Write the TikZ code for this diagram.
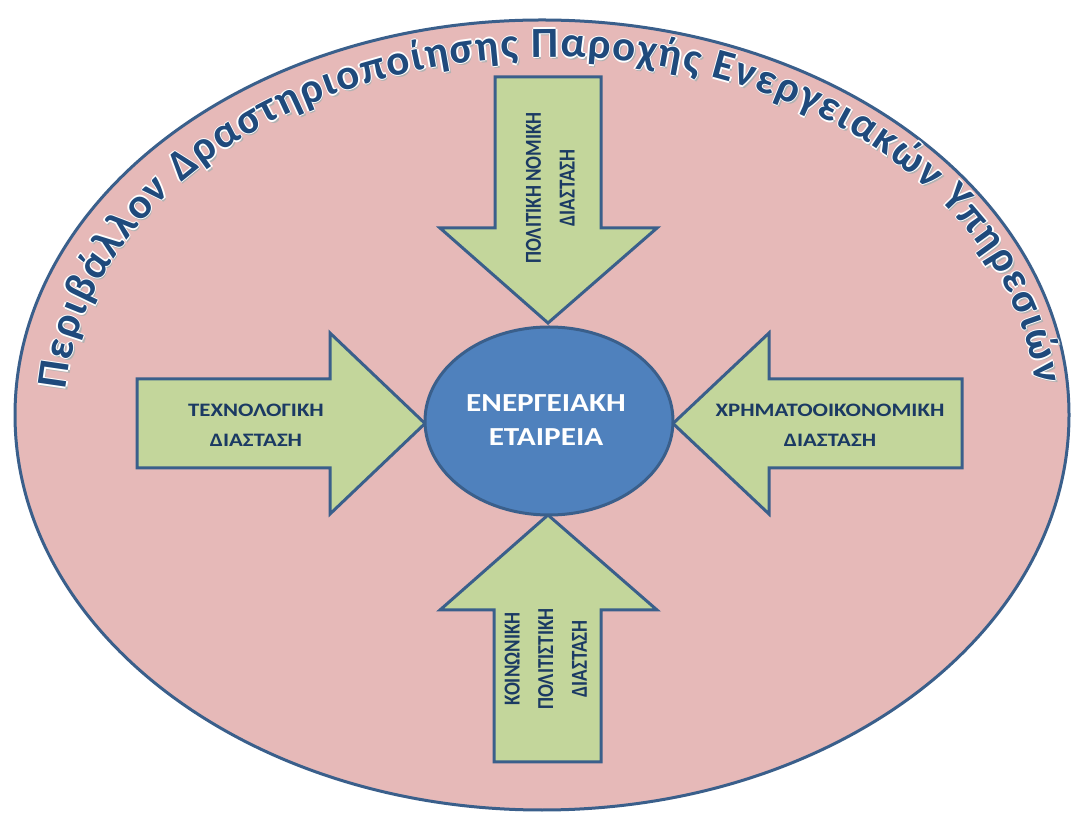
\documentclass[tikz,border=0pt]{standalone}
\usepackage{fontspec}
\usepackage{graphicx}
\usetikzlibrary{decorations.text,shapes.geometric}

\newfontfamily\carlito{Carlito}

\definecolor{rim}{HTML}{3A5F8B}
\definecolor{field}{HTML}{E6B9B8}
\definecolor{force}{HTML}{C3D69B}
\definecolor{corefill}{HTML}{4F81BD}
\definecolor{navy}{HTML}{1B3A63}
\definecolor{arcblue}{HTML}{1F4A7C}

\newcommand\arctitlefont{\carlito\bfseries\fontsize{43}{46}\selectfont}
\newcommand\forcefont{\carlito\bfseries\fontsize{19}{30}\selectfont}
\newcommand\forcefontrot{\carlito\bfseries\fontsize{19}{28}\selectfont}
\newcommand\corefont{\carlito\bfseries\fontsize{26}{34}\selectfont}
% wide lettering: horizontal labels stretched sideways, turned labels stretched in height
\newcommand\widelines[1]{\scalebox{1.2}[1]{\begin{tabular}{@{}c@{}}#1\end{tabular}}}
\newcommand\talllines[1]{\scalebox{1}[1.2]{\begin{tabular}{@{}c@{}}#1\end{tabular}}}

\tikzset{
  fieldshape/.style={ellipse, draw=rim, line width=3pt, fill=field,
    minimum width=1054pt, minimum height=790pt, inner sep=0pt},
  coreshape/.style={ellipse, draw=rim, line width=3pt, fill=corefill,
    minimum width=248pt, minimum height=188pt, inner sep=0pt},
  forcearrow/.style={draw=rim, line width=3pt, fill=force, line join=miter},
  forcelabel/.style={text=navy, font=\forcefont, inner sep=0pt},
  forcelabelrot/.style={text=navy, font=\forcefontrot, inner sep=0pt, rotate=90},
  corelabel/.style={text=white, font=\corefont, inner sep=0pt},
  arctitle/.style={decorate, decoration={text along path, text align=fit to path,
    text={|\arctitlefont\color{#1}|Περιβάλλον Δραστηριοποίησης Παροχής Ενεργειακών Υπηρεσιών}}},
}

\newcommand\titlearc{(551,404) ++(176:486pt and 358pt)
  arc[start angle=176, end angle=5, x radius=486pt, y radius=358pt]}

\begin{document}
\begin{tikzpicture}[x=1pt, y=1pt]
  \fill[white] (0,0) rectangle (1073,819);
  \useasboundingbox (0,0) rectangle (1073,819);

  % the surrounding business environment
  \node[fieldshape] (field) at (542,404) {};

  % curved title: soft shadow, white halo, then the lettering itself
  \path[arctitle={black!30}, shift={(1.8,-2.2)}] \titlearc;
  \path[arctitle=white, shift={(1.4,0)}] \titlearc;
  \path[arctitle=white, shift={(-1.4,0)}] \titlearc;
  \path[arctitle=white, shift={(0,1.4)}] \titlearc;
  \path[arctitle=white, shift={(0,-1.4)}] \titlearc;
  \path[arctitle=arcblue] \titlearc;

  % four forces pointing at the company
  \draw[forcearrow] (495,742) -- (601,742) -- (601,591) -- (657,591)
    -- (548,496) -- (440,591) -- (495,591) -- cycle;
  \draw[forcearrow] (494,57) -- (601,57) -- (601,209) -- (657,209)
    -- (548,304) -- (440,209) -- (494,209) -- cycle;
  \draw[forcearrow] (137,440) -- (330,440) -- (330,486) -- (425,395.5)
    -- (330,305) -- (330,351) -- (137,351) -- cycle;
  \draw[forcearrow] (962,440) -- (769,440) -- (769,486) -- (673,395.5)
    -- (769,305) -- (769,351) -- (962,351) -- cycle;

  % the company at the centre
  \node[coreshape] (core) at (549,398) {};
  \node[corelabel] (corename) at (546,397.5)
    {\widelines{ΕΝΕΡΓΕΙΑΚΗ\\ΕΤΑΙΡΕΙΑ}};

  % force labels
  \node[forcelabelrot] (legal) at (551,631)
    {\talllines{ΠΟΛΙΤΙΚΗ ΝΟΜΙΚΗ\\ΔΙΑΣΤΑΣΗ}};
  \node[forcelabelrot] (social) at (546.5,160)
    {\talllines{ΚΟΙΝΩΝΙΚΗ\\ΠΟΛΙΤΙΣΤΙΚΗ\\ΔΙΑΣΤΑΣΗ}};
  \node[forcelabel] (tech) at (256,393)
    {\widelines{ΤΕΧΝΟΛΟΓΙΚΗ\\ΔΙΑΣΤΑΣΗ}};
  \node[forcelabel] (finance) at (830,393)
    {\widelines{ΧΡΗΜΑΤΟΟΙΚΟΝΟΜΙΚΗ\\ΔΙΑΣΤΑΣΗ}};
\end{tikzpicture}
\end{document}
